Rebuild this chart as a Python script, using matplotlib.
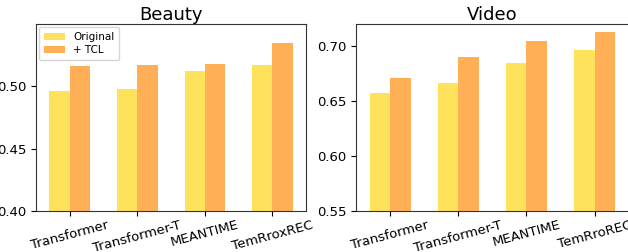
import matplotlib
matplotlib.use("Agg")
import matplotlib.pyplot as plt
import numpy as np

# 模型名称和两组数据集结果
MODELS = ["Transformer", "Transformer-T", "MEANTIME", "TemRroxREC"]
MODELS_VIDEO = ["Transformer", "Transformer-T", "MEANTIME", "TemRroREC"]
BEAUTY_ORIG = [0.496, 0.498, 0.512, 0.517]
BEAUTY_TCL = [0.516, 0.517, 0.518, 0.535]
VIDEO_ORIG = [0.657, 0.666, 0.685, 0.696]
VIDEO_TCL = [0.671, 0.690, 0.705, 0.713]

YELLOW = "#FFE25C"
ORANGE = "#FFB057"


def draw_panel(ax, names, orig, tcl, title, ylim, yticks, legend=False):
    x = np.arange(len(names))
    w = 0.3
    ax.bar(x - w / 2, orig, w, color=YELLOW, label="Original")
    ax.bar(x + w / 2, tcl, w, color=ORANGE, label="+ TCL")
    ax.set_xlim(-0.5, len(names) - 0.5)
    ax.set_ylim(*ylim)
    ax.set_yticks(yticks)
    ax.set_yticklabels([f"{t:.2f}" for t in yticks], fontsize=9.5)
    ax.set_xticks(x)
    ax.set_xticklabels(names, rotation=15, fontsize=9.5)
    ax.tick_params(axis="x", pad=2)
    ax.set_title(title, fontsize=13, pad=3)
    for s in ax.spines.values():
        s.set_color("#333333")
    if legend:
        ax.legend(loc="upper left", fontsize=7.5, handlelength=2.0,
                  borderpad=0.45, labelspacing=0.35, borderaxespad=0.3)


fig = plt.figure(figsize=(6.28, 2.52), dpi=100)
ax1 = fig.add_axes([0.0573, 0.1627, 0.430, 0.742])
ax2 = fig.add_axes([0.567, 0.1627, 0.434, 0.742])

draw_panel(ax1, MODELS, BEAUTY_ORIG, BEAUTY_TCL, "Beauty", (0.40, 0.55), [0.40, 0.45, 0.50], legend=True)
draw_panel(ax2, MODELS_VIDEO, VIDEO_ORIG, VIDEO_TCL, "Video", (0.55, 0.72), [0.55, 0.60, 0.65, 0.70])

plt.savefig("out.png", dpi=100)
